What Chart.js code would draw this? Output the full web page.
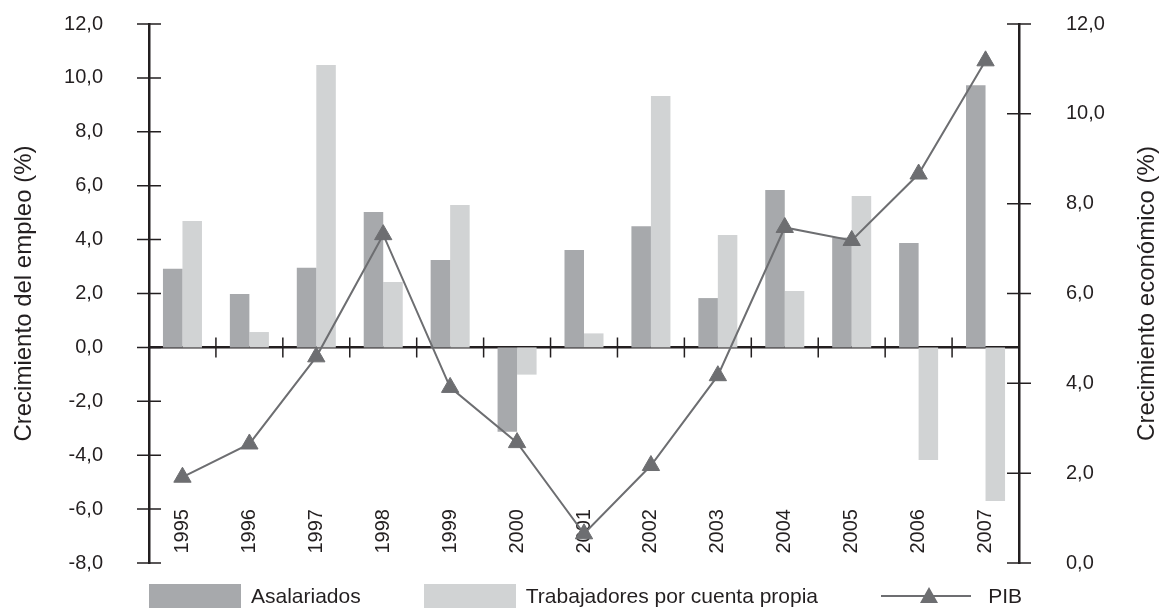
<!DOCTYPE html>
<html>
<head>
<meta charset="utf-8">
<title>Crecimiento del empleo y PIB</title>
<script src="https://cdn.jsdelivr.net/npm/chart.js@4.4.1/dist/chart.umd.min.js"></script>
<style>
    html, body { margin: 0; padding: 0; background: #fff; }
    #wrap { position: relative; width: 1162px; height: 609px; font-family: 'Liberation Sans', Arial, sans-serif; color: #231f20; }
    #legend { position: absolute; left: 149px; top: 584px; width: 873px; height: 24px; display: flex; justify-content: space-between; align-items: center; font-size: 21px; }
    #legend .item { display: flex; align-items: center; white-space: nowrap; }
    #legend .box { width: 92px; height: 24px; margin-right: 10px; }
    #legend svg { margin-right: 15px; }
</style>
</head>
<body>
<div id="wrap">
    <canvas id="chart" width="1162" height="609"></canvas>
    <div id="legend"></div>
</div>
<script>
var years = ['1995', '1996', '1997', '1998', '1999', '2000', '2001', '2002', '2003', '2004', '2005', '2006', '2007'];
var asalariados = [2.92, 1.98, 2.96, 5.02, 3.24, -3.13, 3.61, 4.50, 1.83, 5.84, 4.08, 3.87, 9.73];
var cuentaPropia = [4.69, 0.57, 10.48, 2.43, 5.28, -1.01, 0.52, 9.33, 4.17, 2.09, 5.62, -4.18, -5.70];
var pib = [1.91, 2.65, 4.59, 7.31, 3.91, 2.68, 0.65, 2.17, 4.17, 7.47, 7.18, 8.66, 11.18];

var leftTitle = 'Crecimiento del empleo (%)';
var rightTitle = 'Crecimiento económico (%)';

var darkGray = '#a7a9ac';
var lightGray = '#d1d3d4';
var lineGray = '#6d6e71';
var ink = '#231f20';
var fontFamily = "'Liberation Sans', Arial, sans-serif";

function comma(value) {
    return value.toFixed(1).replace('.', ',');
}

// small tick marks that cross the axis lines, like in the original figure
var crossTicks = {
    id: 'crossTicks',
    afterDatasetsDraw: function (chart) {
        var ctx = chart.ctx;
        var x = chart.scales.x, y = chart.scales.y, y1 = chart.scales.y1;
        var zero = y.getPixelForValue(0);
        ctx.save();
        ctx.strokeStyle = ink;
        ctx.lineWidth = 1.5;
        ctx.beginPath();
        y.ticks.forEach(function (t) {
            var p = y.getPixelForValue(t.value);
            ctx.moveTo(y.right - 12, p);
            ctx.lineTo(y.right + 12, p);
        });
        y1.ticks.forEach(function (t) {
            var p = y1.getPixelForValue(t.value);
            ctx.moveTo(y1.left - 12, p);
            ctx.lineTo(y1.left + 12, p);
        });
        for (var i = 1; i < years.length; i++) {
            var px = (x.getPixelForValue(i - 1) + x.getPixelForValue(i)) / 2;
            ctx.moveTo(px, zero - 10);
            ctx.lineTo(px, zero + 10);
        }
        ctx.stroke();

        // right axis title reads bottom to top
        ctx.translate(1147, (chart.chartArea.top + chart.chartArea.bottom) / 2);
        ctx.rotate(-Math.PI / 2);
        ctx.font = '24px ' + fontFamily;
        ctx.fillStyle = ink;
        ctx.textAlign = 'center';
        ctx.textBaseline = 'middle';
        ctx.fillText(rightTitle, 0, 0);
        ctx.restore();
    }
};

function noHeight(scale) {
    scale.height = 0;
    scale.paddingTop = 0;
    scale.paddingBottom = 0;
    scale.paddingLeft = 0;
    scale.paddingRight = 0;
}

var ctx = document.getElementById('chart').getContext('2d');
var chart = new Chart(ctx, {
    type: 'bar',
    data: {
        labels: years,
        datasets: [{
            type: 'line',
            label: 'PIB',
            data: pib,
            yAxisID: 'y1',
            order: 0,
            borderColor: lineGray,
            borderWidth: 2,
            tension: 0,
            pointStyle: 'triangle',
            pointRadius: 10,
            pointBackgroundColor: lineGray,
            pointBorderColor: lineGray,
            pointBorderWidth: 1
        }, {
            label: 'Asalariados',
            data: asalariados,
            backgroundColor: darkGray,
            order: 1
        }, {
            label: 'Trabajadores por cuenta propia',
            data: cuentaPropia,
            backgroundColor: lightGray,
            order: 1
        }]
    },
    options: {
        responsive: false,
        animation: false,
        layout: { padding: { left: 0, right: 0, top: 24, bottom: 46 } },
        datasets: { bar: { categoryPercentage: 0.583, barPercentage: 1 } },
        plugins: { legend: { display: false }, tooltip: { enabled: false } },
        scales: {
            x: {
                type: 'category',
                position: { y: 0 },
                offset: true,
                z: 1,
                afterFit: noHeight,
                grid: { display: false, drawTicks: false },
                border: { display: true, color: ink, width: 2.5 },
                ticks: { display: false }
            },
            x2: {
                type: 'category',
                position: { y: -6.0 },
                offset: true,
                afterFit: noHeight,
                grid: { display: false, drawTicks: false },
                border: { display: false },
                ticks: {
                    autoSkip: false, minRotation: 90, maxRotation: 90, padding: 0,
                    color: ink, font: { family: fontFamily, size: 20 }
                }
            },
            y: {
                position: 'left',
                min: -8, max: 12,
                afterFit: function (scale) { scale.width = 149; scale.paddingTop = 0; scale.paddingBottom = 0; },
                grid: { display: false, drawTicks: false },
                border: { display: true, color: ink, width: 2.5 },
                ticks: {
                    stepSize: 2, padding: 46, color: ink,
                    font: { family: fontFamily, size: 20 },
                    callback: function (v) { return comma(v); }
                },
                title: {
                    display: true, text: leftTitle, color: ink,
                    font: { family: fontFamily, size: 24 },
                    padding: { top: 10, bottom: 0 }
                }
            },
            y1: {
                position: 'right',
                min: 0, max: 12,
                afterFit: function (scale) { scale.width = 143; scale.paddingTop = 0; scale.paddingBottom = 0; },
                grid: { display: false, drawTicks: false },
                border: { display: true, color: ink, width: 2.5 },
                ticks: {
                    stepSize: 2, padding: 47, color: ink,
                    font: { family: fontFamily, size: 20 },
                    callback: function (v) { return comma(v); }
                }
            }
        }
    },
    plugins: [crossTicks]
});

// html legend built from the chart's datasets
var legend = document.getElementById('legend');
[1, 2, 0].forEach(function (i) {
    var ds = chart.data.datasets[i];
    var item = document.createElement('div');
    item.className = 'item';
    if (ds.type === 'line') {
        item.innerHTML = '<svg width="92" height="24"><line x1="0" y1="12" x2="90" y2="12" stroke="' + lineGray + '" stroke-width="2"/>' +
            '<polygon points="48,3 57,19 39,19" fill="' + lineGray + '"/></svg>';
    } else {
        item.innerHTML = '<span class="box" style="background:' + ds.backgroundColor + '"></span>';
    }
    item.appendChild(document.createTextNode(ds.label));
    legend.appendChild(item);
});
</script>
</body>
</html>
